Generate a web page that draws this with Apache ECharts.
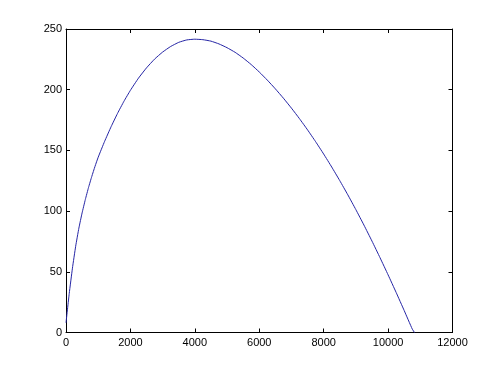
<!DOCTYPE html>
<html>
<head>
<meta charset="utf-8">
<script src="https://cdn.jsdelivr.net/npm/echarts@6/dist/echarts.min.js"></script>
<style>html,body{margin:0;padding:0;background:#fff;}#c{width:500px;height:374px;}</style>
</head>
<body>
<div id="c"></div>
<script>
var xs = [0,100,200,300,400,500,600,700,800,900,1000,1200,1400,1600,1800,2000,2250,2500,2750,3000,3250,3500,3750,4000,4250,4500,4750,5000,5250,5500,5750,6000,6250,6500,6750,7000,7250,7500,7750,8000,8250,8500,8750,9000,9250,9500,9750,10000,10250,10500,10750,10820];
var ys = [8,32,53,71,86,98.5,109.5,119.5,128.5,136.8,144.4,157.5,169.5,180.5,190.5,199.5,209.5,218,225.2,231,235.6,239,241,241.6,241.2,240,237.7,234.6,230.8,226.1,220.7,214.6,207.9,200.7,193,184.8,176.1,166.9,157.2,147,136.3,125.1,113.4,101.2,88.5,75.3,61.6,47.5,33,18.1,2.9,0];
var xTicks = [0,2000,4000,6000,8000,10000,12000];
var yTicks = [0,50,100,150,200,250];

var chart = echarts.init(document.getElementById('c'), null, {renderer:'canvas'});
var pts = xs.map(function(x,i){return [x, ys[i]];});
var font = 'Liberation Sans';
function axisBase(pos, show, mn, mx, iv){
  return {
    type:'value', position:pos, min:mn, max:mx, interval:iv,
    axisLine:{show:true, onZero:false, lineStyle:{color:'#000', width:1}},
    axisTick:{show:true, inside:true, length:4, lineStyle:{color:'#000'}},
    axisLabel:{show:show, color:'#000', fontFamily:font, fontSize:11, margin:5,
      formatter:function(v){return String(v);}},
    splitLine:{show:false}
  };
}
var xb = axisBase('bottom', true, xTicks[0], xTicks[xTicks.length-1], xTicks[1]-xTicks[0]);
var xt = axisBase('top', false, xTicks[0], xTicks[xTicks.length-1], xTicks[1]-xTicks[0]);
var yl = axisBase('left', true, yTicks[0], yTicks[yTicks.length-1], yTicks[1]-yTicks[0]);
yl.axisLabel.margin = 4;
var yr = axisBase('right', false, yTicks[0], yTicks[yTicks.length-1], yTicks[1]-yTicks[0]);
chart.setOption({
  animation:false,
  backgroundColor:'#fff',
  grid:{left:66, right:47.5, top:29, bottom:41.5},
  xAxis:[xb, xt],
  yAxis:[yl, yr],
  series:[{
    type:'line', data:pts, smooth:0.15, showSymbol:false, symbol:'none',
    xAxisIndex:0, yAxisIndex:0,
    lineStyle:{color:'#2525a5', width:1}
  }]
});
</script>
</body>
</html>
